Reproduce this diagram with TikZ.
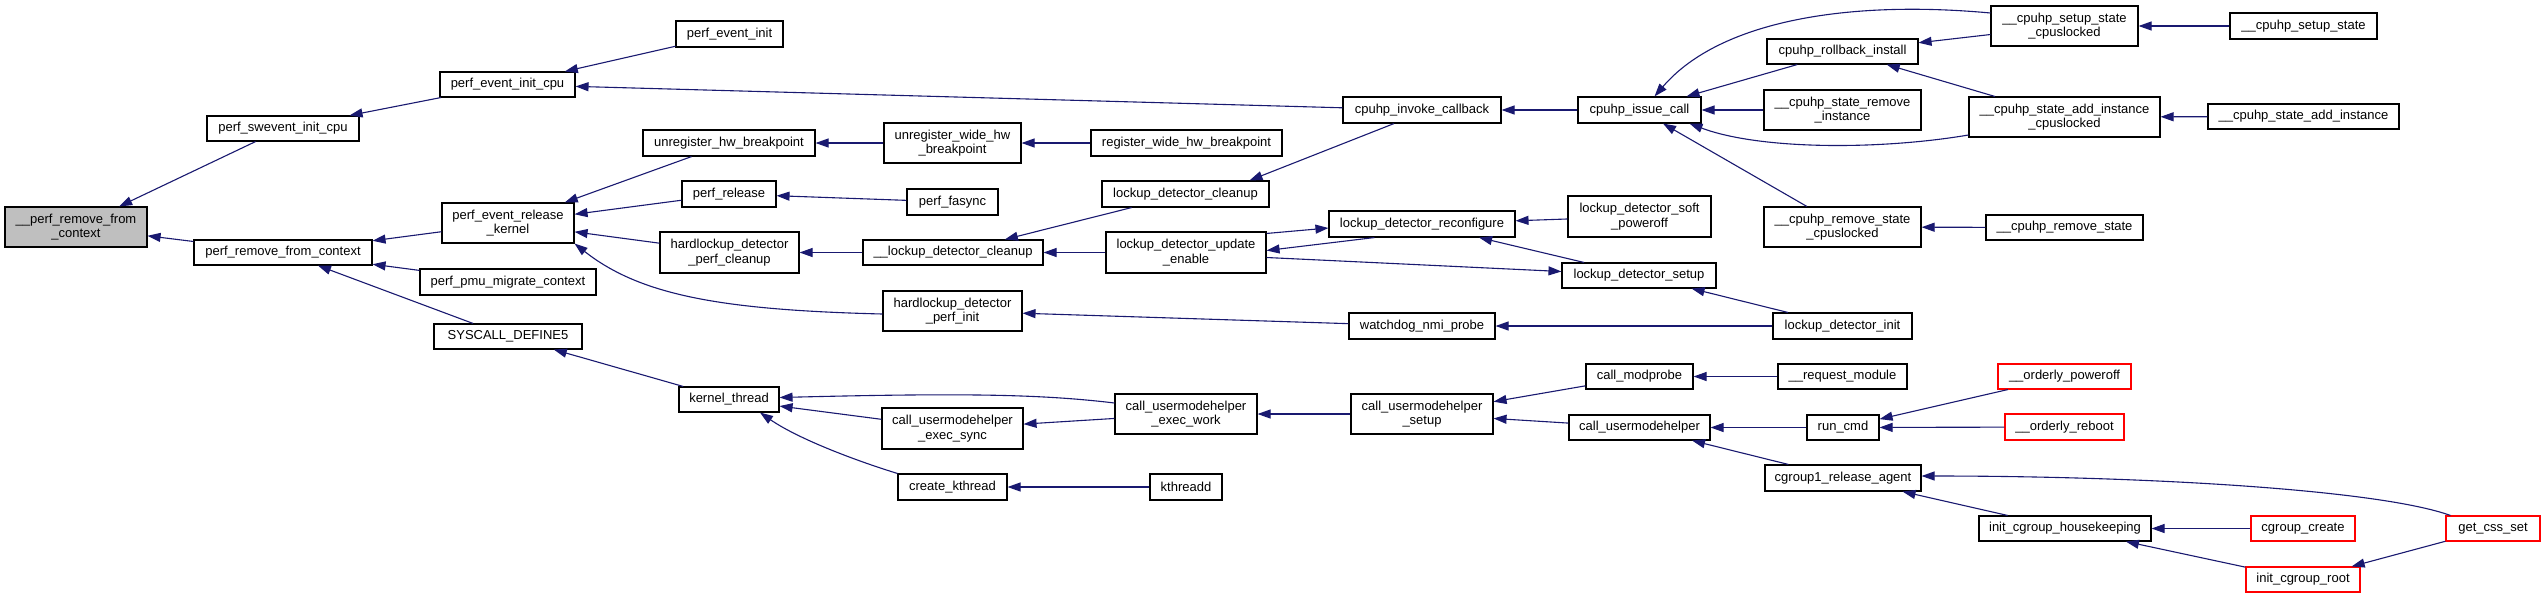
\documentclass[tikz,border=0pt]{standalone}
\usepackage{fontspec}
\setmainfont{Liberation Sans}
\usetikzlibrary{arrows.meta}
\definecolor{edgeblue}{HTML}{191970}
\definecolor{rootgray}{HTML}{BFBFBF}
\definecolor{trunc}{HTML}{FF0000}
\tikzset{
  box/.style={draw=black, line width=1.1pt, fill=white, inner sep=0pt, align=center,
    font=\fontsize{13}{14.5}\selectfont},
  edge/.style={draw=edgeblue, line width=1.1pt, -{Triangle[length=13pt,width=9pt]}}
}
\newcommand\gbox[7][]{\node[box,#1,minimum width={(#4-#3)*1pt},minimum height={(#6-#5)*1pt}] (#2) at ({(#3+#4)/2},{(#5+#6)/2}) {#7};}
\begin{document}
\begin{tikzpicture}[x=1pt,y=-1pt]
\useasboundingbox (0,0) rectangle (2545,598);
\fill[white] (0,0) rectangle (2545,598);
\gbox[fill=rootgray]{root}{5}{147}{207}{247}{\_\_perf\_remove\_from\\\_context}
\gbox{swevent}{207}{359}{116}{141}{perf\_swevent\_init\_cpu}
\gbox{eicpu}{440}{575}{72}{97}{perf\_event\_init\_cpu}
\gbox{prfc}{194}{372}{240}{265}{perf\_remove\_from\_context}
\gbox{erk}{442}{574}{203}{243}{perf\_event\_release\\\_kernel}
\gbox{pmu}{420}{596}{269}{295}{perf\_pmu\_migrate\_context}
\gbox{sys}{434}{582}{324}{349}{SYSCALL\_DEFINE5}
\gbox{einit}{676}{783}{21}{47}{perf\_event\_init}
\gbox{uhb}{643}{815}{130}{156}{unregister\_hw\_breakpoint}
\gbox{uwhb}{884}{1021}{123}{163}{unregister\_wide\_hw\\\_breakpoint}
\gbox{rwhb}{1091}{1282}{130}{156}{register\_wide\_hw\_breakpoint}
\gbox{prel}{682}{776}{181}{207}{perf\_release}
\gbox{fasync}{907}{998}{189}{215}{perf\_fasync}
\gbox{ldc}{1102}{1269}{181}{207}{lockup\_detector\_cleanup}
\gbox{hdpc}{660}{799}{232}{273}{hardlockup\_detector\\\_perf\_cleanup}
\gbox{uldc}{863}{1043}{240}{265}{\_\_lockup\_detector\_cleanup}
\gbox{ldue}{1106}{1266}{232}{273}{lockup\_detector\_update\\\_enable}
\gbox{hdpi}{883}{1022}{291}{331}{hardlockup\_detector\\\_perf\_init}
\gbox{kt}{679}{779}{387}{412}{kernel\_thread}
\gbox{cues}{882}{1023}{408}{449}{call\_usermodehelper\\\_exec\_sync}
\gbox{cuew}{1115}{1257}{394}{434}{call\_usermodehelper\\\_exec\_work}
\gbox{ck}{898}{1007}{474}{500}{create\_kthread}
\gbox{kthreadd}{1150}{1222}{474}{500}{kthreadd}
\gbox{cic}{1343}{1501}{97}{123}{cpuhp\_invoke\_callback}
\gbox{ici}{1578}{1701}{97}{123}{cpuhp\_issue\_call}
\gbox{rb}{1767}{1918}{39}{64}{cpuhp\_rollback\_install}
\gbox{srmi}{1764}{1921}{90}{130}{\_\_cpuhp\_state\_remove\\\_instance}
\gbox{rmsc}{1764}{1921}{207}{247}{\_\_cpuhp\_remove\_state\\\_cpuslocked}
\gbox{ldr}{1329}{1515}{211}{237}{lockup\_detector\_reconfigure}
\gbox{ldsp}{1568}{1711}{196}{237}{lockup\_detector\_soft\\\_poweroff}
\gbox{lds}{1562}{1716}{263}{288}{lockup\_detector\_setup}
\gbox{wnp}{1349}{1495}{313}{339}{watchdog\_nmi\_probe}
\gbox{ldi}{1773}{1912}{313}{339}{lockup\_detector\_init}
\gbox{cmp}{1586}{1693}{364}{389}{call\_modprobe}
\gbox{rqm}{1778}{1907}{364}{389}{\_\_request\_module}
\gbox{cus}{1351}{1493}{394}{434}{call\_usermodehelper\\\_setup}
\gbox{cu}{1569}{1710}{415}{440}{call\_usermodehelper}
\gbox{run}{1807}{1879}{415}{440}{run\_cmd}
\gbox{cra}{1765}{1921}{465}{491}{cgroup1\_release\_agent}
\gbox{sssc}{1991}{2138}{6}{46}{\_\_cpuhp\_setup\_state\\\_cpuslocked}
\gbox{sss}{2230}{2377}{13}{39}{\_\_cpuhp\_setup\_state}
\gbox{saic}{1969}{2160}{97}{137}{\_\_cpuhp\_state\_add\_instance\\\_cpuslocked}
\gbox{sai}{2208}{2399}{104}{129}{\_\_cpuhp\_state\_add\_instance}
\gbox{rms}{1986}{2143}{215}{240}{\_\_cpuhp\_remove\_state}
\gbox[draw=trunc]{opo}{1998}{2131}{364}{389}{\_\_orderly\_poweroff}
\gbox[draw=trunc]{ore}{2005}{2124}{414}{440}{\_\_orderly\_reboot}
\gbox{ich}{1979}{2151}{516}{541}{init\_cgroup\_housekeeping}
\gbox[draw=trunc]{cgc}{2251}{2355}{516}{541}{cgroup\_create}
\gbox[draw=trunc]{gcs}{2446}{2540}{516}{541}{get\_css\_set}
\gbox[draw=trunc]{icr}{2246}{2360}{567}{592}{init\_cgroup\_root}
% edges: caller -> callee, arrow at callee
\draw[edge] (swevent) -- (root);
\draw[edge] (prfc) -- (root);
\draw[edge] (eicpu) -- (swevent);
\draw[edge] (einit) -- (eicpu);
\draw[edge] (cic) -- (eicpu);
\draw[edge] (erk) -- (prfc);
\draw[edge] (pmu) -- (prfc);
\draw[edge] (sys) -- (prfc);
\draw[edge] (uhb) -- (erk);
\draw[edge] (prel) -- (erk);
\draw[edge] (hdpc) -- (erk);
\draw[edge] ([yshift=-3pt]hdpi.west) .. controls (720,310) and (640,295) .. (erk.south east);
\draw[edge] (kt) -- (sys);
\draw[edge] (uwhb) -- (uhb);
\draw[edge] (rwhb) -- (uwhb);
\draw[edge] (fasync) -- (prel);
\draw[edge] (uldc) -- (hdpc);
\draw[edge] (ldc) -- (uldc);
\draw[edge] (ldue) -- (uldc);
\draw[edge] ([xshift=-28pt]cic.south) -- ([xshift=64pt]ldc.north);
\draw[edge] (wnp) -- (hdpi);
\draw[edge] ([yshift=11pt]cuew.west) .. controls (1040,394) and (960,393) .. ([yshift=2pt]kt.east);
\draw[edge] (cues) -- (kt);
\draw[edge] (ck.north west) .. controls (860,462) and (800,440) .. ([xshift=31pt]kt.south);
\draw[edge] (cuew) -- (cues);
\draw[edge] (kthreadd) -- (ck);
\draw[edge] (cus) -- (cuew);
\draw[edge] (ici) -- (cic);
\draw[edge] (rb) -- (ici);
\draw[edge] (srmi) -- (ici);
\draw[edge] (rmsc) -- (ici);
\draw[edge] ([yshift=13pt]sssc.west) .. controls (1850,0) and (1720,20) .. ([xshift=15pt]ici.north);
\draw[edge] ([yshift=-18pt]saic.west) .. controls (1880,150) and (1760,150) .. ([xshift=50pt]ici.south);
\draw[edge] (sssc) -- (rb);
\draw[edge] (saic) -- (rb);
\draw[edge] (sss) -- (sssc);
\draw[edge] (sai) -- (saic);
\draw[edge] (rms) -- (rmsc);
\draw[edge] (ldsp) -- (ldr);
\draw[edge] (lds) -- (ldr);
\draw[edge] ([yshift=-2pt]ldue.north east) -- ([yshift=-4pt]ldr.west);
\draw[edge] ([xshift=46pt]ldr.south west) -- ([yshift=2pt]ldue.east);
\draw[edge] ([yshift=-5pt]ldue.east) -- ([yshift=4pt]lds.west);
\draw[edge] (ldi) -- (lds);
\draw[edge] (ldi) -- (wnp);
\draw[edge] (cmp) -- (cus);
\draw[edge] (cu) -- (cus);
\draw[edge] (rqm) -- (cmp);
\draw[edge] (run) -- (cu);
\draw[edge] (cra) -- (cu);
\draw[edge] (opo) -- (run);
\draw[edge] (ore) -- (run);
\draw[edge] ([xshift=5pt]gcs.north west) .. controls (2380,490) and (2150,476) .. ([yshift=2pt]cra.east);
\draw[edge] (ich) -- (cra);
\draw[edge] (cgc) -- (ich);
\draw[edge] (icr) -- (ich);
\draw[edge] (gcs) -- (icr);
\end{tikzpicture}
\end{document}
